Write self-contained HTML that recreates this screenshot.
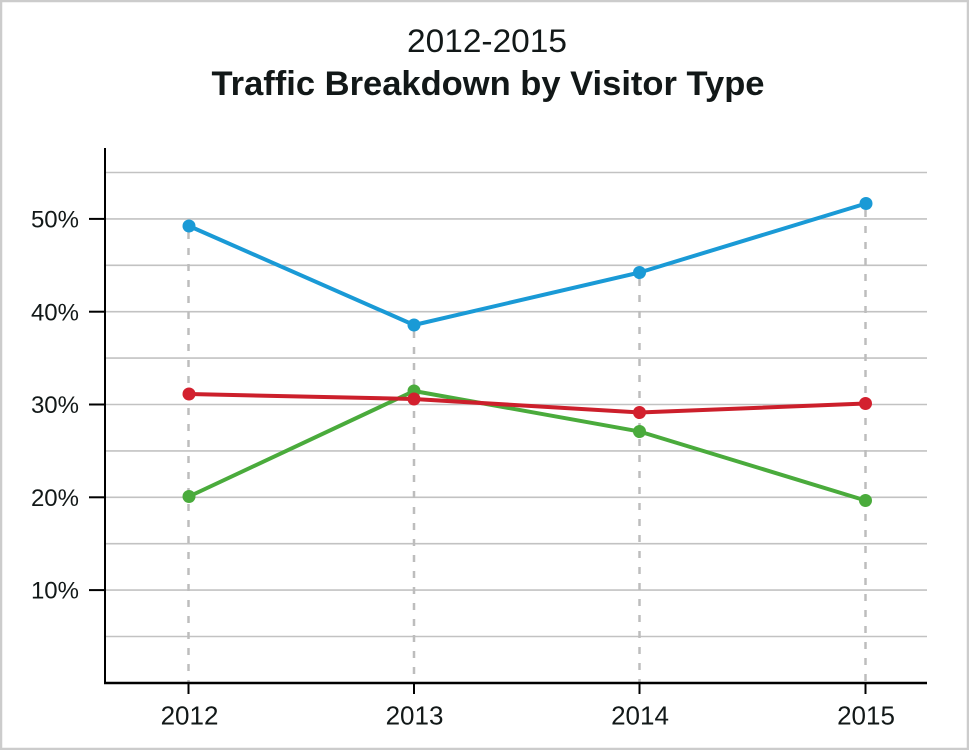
<!DOCTYPE html>
<html>
<head>
<meta charset="utf-8">
<style>
  html, body { margin: 0; padding: 0; background: #fff; }
  body { width: 969px; height: 750px; overflow: hidden; }
  svg { display: block; }
  text { font-family: "Liberation Sans", sans-serif; fill: #121818; }
</style>
</head>
<body>
<svg width="969" height="750" viewBox="0 0 969 750" xmlns="http://www.w3.org/2000/svg">
  <rect x="0" y="0" width="969" height="750" fill="#ffffff"/>
  <!-- border -->
  <rect x="1" y="1" width="967" height="748" fill="none" stroke="#cccccc" stroke-width="2.5"/>

  <!-- titles -->
  <text x="487" y="52" font-size="32" text-anchor="middle" textLength="160" lengthAdjust="spacingAndGlyphs">2012-2015</text>
  <text x="488" y="95" font-size="34" font-weight="bold" text-anchor="middle" textLength="553" lengthAdjust="spacingAndGlyphs">Traffic Breakdown by Visitor Type</text>

  <!-- gridlines -->
  <g stroke="#c2c2c2" stroke-width="1.6">
    <line x1="105" y1="172.5" x2="927" y2="172.5"/>
    <line x1="105" y1="218.9" x2="927" y2="218.9"/>
    <line x1="105" y1="265.3" x2="927" y2="265.3"/>
    <line x1="105" y1="311.7" x2="927" y2="311.7"/>
    <line x1="105" y1="358.1" x2="927" y2="358.1"/>
    <line x1="105" y1="404.5" x2="927" y2="404.5"/>
    <line x1="105" y1="450.9" x2="927" y2="450.9"/>
    <line x1="105" y1="497.3" x2="927" y2="497.3"/>
    <line x1="105" y1="543.7" x2="927" y2="543.7"/>
    <line x1="105" y1="590.1" x2="927" y2="590.1"/>
    <line x1="105" y1="636.5" x2="927" y2="636.5"/>
  </g>

  <!-- dashed drop lines -->
  <g stroke="#bdbdbd" stroke-width="2.5" stroke-dasharray="7,9">
    <line x1="188.5" y1="232" x2="188.5" y2="682"/>
    <line x1="414" y1="331" x2="414" y2="682"/>
    <line x1="639.5" y1="279" x2="639.5" y2="682"/>
    <line x1="865.5" y1="210" x2="865.5" y2="682"/>
  </g>

  <!-- axes -->
  <line x1="105" y1="148" x2="105" y2="684" stroke="#000" stroke-width="2"/>
  <line x1="104" y1="683" x2="927" y2="683" stroke="#000" stroke-width="2.5"/>

  <!-- y ticks -->
  <g stroke="#000" stroke-width="2">
    <line x1="89" y1="218.9" x2="105" y2="218.9"/>
    <line x1="89" y1="311.7" x2="105" y2="311.7"/>
    <line x1="89" y1="404.5" x2="105" y2="404.5"/>
    <line x1="89" y1="497.3" x2="105" y2="497.3"/>
    <line x1="89" y1="590.1" x2="105" y2="590.1"/>
  </g>
  <!-- x ticks -->
  <g stroke="#000" stroke-width="2">
    <line x1="188.5" y1="683" x2="188.5" y2="694"/>
    <line x1="414" y1="683" x2="414" y2="694"/>
    <line x1="639.5" y1="683" x2="639.5" y2="694"/>
    <line x1="865.5" y1="683" x2="865.5" y2="694"/>
  </g>

  <!-- y labels -->
  <g font-size="24" text-anchor="end">
    <text x="79" y="227.5">50%</text>
    <text x="79" y="320.3">40%</text>
    <text x="79" y="413">30%</text>
    <text x="79" y="505.8">20%</text>
    <text x="79" y="598.6">10%</text>
  </g>

  <!-- x labels -->
  <g font-size="26" text-anchor="middle">
    <text x="189.5" y="724.5">2012</text>
    <text x="414.5" y="724.5">2013</text>
    <text x="640" y="724.5">2014</text>
    <text x="866" y="724.5">2015</text>
  </g>

  <!-- green series -->
  <polyline points="189,496.5 414,391 639.5,431.5 865.5,500.5" fill="none" stroke="#4aab3c" stroke-width="4" stroke-linejoin="round"/>
  <g fill="#4aab3c">
    <circle cx="189" cy="496.5" r="6.5"/>
    <circle cx="414" cy="391" r="6.5"/>
    <circle cx="639.5" cy="431.5" r="6.5"/>
    <circle cx="865.5" cy="500.5" r="6.5"/>
  </g>

  <!-- red series -->
  <polyline points="189,394 414,399 639.5,412.5 865.5,403.5" fill="none" stroke="#cc1f2b" stroke-width="4" stroke-linejoin="round"/>
  <g fill="#d3202e">
    <circle cx="189" cy="394" r="6.5"/>
    <circle cx="414" cy="399" r="6.5"/>
    <circle cx="639.5" cy="412.5" r="6.5"/>
    <circle cx="865.5" cy="403.5" r="6.5"/>
  </g>

  <!-- blue series -->
  <polyline points="189,226 414,325 639.5,272.5 866,203.5" fill="none" stroke="#1a9ad6" stroke-width="4" stroke-linejoin="round"/>
  <g fill="#1a9ad6">
    <circle cx="189" cy="226" r="6.5"/>
    <circle cx="414" cy="325" r="6.5"/>
    <circle cx="639.5" cy="272.5" r="6.5"/>
    <circle cx="866" cy="203.5" r="6.5"/>
  </g>
</svg>
</body>
</html>
